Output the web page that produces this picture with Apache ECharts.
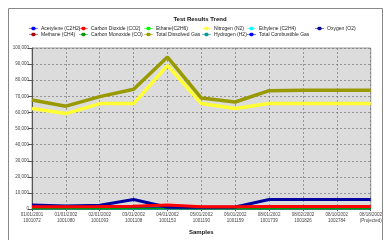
<!DOCTYPE html>
<html><head><meta charset="utf-8">
<script src="https://cdn.jsdelivr.net/npm/echarts@6/dist/echarts.min.js"></script>
<style>html,body{margin:0;padding:0;background:#fff}#c{width:385px;height:240px}</style>
</head><body><div id="c"></div>
<script>
const categories = ['01/01/2001\n1001072','01/01/2002\n1001080','02/01/2002\n1001093','03/01/2002\n1001108','04/01/2002\n1001153','05/01/2002\n1001190','06/01/2002\n1001159','08/01/2002\n1001739','08/02/2002\n1001826','08/10/2002\n1002784','08/18/2002\n(Projected)'];
const acetylene = [0,0,0,0,0,0,0,0,0,0,0];
const carbonDioxide = [1500,1500,1600,1800,2600,1500,1500,1600,1600,1600,1600];
const ethane = [50,50,60,80,70,50,50,60,60,60,60];
const nitrogen = [62500,59300,65500,65500,89200,65500,62500,65500,65500,65500,65500];
const ethylene = [20,20,20,30,30,20,20,20,20,20,20];
const oxygen = [2600,2000,2400,6000,1200,1200,1300,6000,6000,6000,6000];
const methane = [100,100,120,150,140,100,100,110,110,110,110];
const carbonMonoxide = [300,300,400,600,500,300,300,350,350,350,350];
const totalDissolvedGas = [67700,63900,69800,74400,94400,68900,66500,73500,73800,73800,73800];
const hydrogen = [30,30,40,60,50,30,30,40,40,40,40];
const totalCombustibleGas = [500,500,600,900,800,500,500,550,550,550,550];
const yTicks = [0,10000,20000,30000,40000,50000,60000,70000,80000,90000,100000];

const S = [
 ['Acetylene (C2H2)', acetylene, '#0000ff', 1.5],
 ['Carbon Dioxide (CO2)', carbonDioxide, '#ff0000', 3],
 ['Ethane(C2H6)', ethane, '#00ff00', 1.5],
 ['Nitrogen (N2)', nitrogen, '#ffff33', 3.5],
 ['Ethylene (C2H4)', ethylene, '#00ffff', 1.5],
 ['Oxygen (O2)', oxygen, '#0000a0', 3],
 ['Methane (CH4)', methane, '#aa0000', 1.5],
 ['Carbon Monoxide (CO)', carbonMonoxide, '#009900', 1.5],
 ['Total Dissolved Gas', totalDissolvedGas, '#999900', 3.5],
 ['Hydrogen (H2)', hydrogen, '#009999', 1.5],
 ['Total Combustible Gas', totalCombustibleGas, '#0000ff', 1.5]
];
const drawOrder = [0,2,4,6,9,10,7,5,1,8,3];
const icon = 'path://M0,4 L4,4 C5,0.5 11,0.5 12,4 L16,4 L16,5 L12,5 C11,8.5 5,8.5 4,5 L0,5 Z';
const cols = [
 {x:29, names:[S[0][0], S[6][0]]},
 {x:79, names:[S[1][0], S[7][0]]},
 {x:144, names:[S[2][0], S[8][0]]},
 {x:202, names:[S[3][0], S[9][0]]},
 {x:247, names:[S[4][0], S[10][0]]},
 {x:315, names:[S[5][0]]}
];
const legends = cols.map(c => ({
  orient:'vertical', left:c.x, top:26, itemGap:1, itemWidth:9, itemHeight:5, icon:icon,
  padding:0, data:c.names, selectedMode:false,
  textStyle:{fontSize:5, fontFamily:'Liberation Sans', color:'#222', padding:[0,0,0,-2]}
}));
const chart = echarts.init(document.getElementById('c'), null, {renderer:'canvas'});
chart.setOption({
  animation:false,
  backgroundColor:'#fff',
  graphic:[{type:'rect', shape:{x:8.5,y:8.5,width:374,height:240}, style:{fill:'none', stroke:'#888', lineWidth:1}}],
  title:{text:'Test Results Trend', left:195, textAlign:'center', top:11, textStyle:{fontSize:6, fontWeight:'bold', fontFamily:'Liberation Sans', color:'#111'}},
  legend:legends,
  grid:{left:32, right:9, top:48, bottom:25, show:true, backgroundColor:'#dcdcdc', borderColor:'#999', borderWidth:1},
  xAxis:{type:'category', data:categories, boundaryGap:false,
    name:'Samples', nameLocation:'middle', nameGap:17,
    nameTextStyle:{fontSize:6, fontWeight:'bold', fontFamily:'Liberation Sans', color:'#111'},
    axisLine:{lineStyle:{color:'#555'}}, axisTick:{show:true, length:2, lineStyle:{color:'#555'}},
    axisLabel:{fontSize:4.5, fontFamily:'Liberation Sans', color:'#444', interval:0, lineHeight:6, margin:3},
    splitLine:{show:true, lineStyle:{color:'#777', type:[2,2], width:0.7}}},
  yAxis:{type:'value', min:0, max:100000, interval:10000,
    axisLine:{show:true, lineStyle:{color:'#555'}}, axisTick:{show:true, length:4, lineStyle:{color:'#555'}},
    axisLabel:{fontSize:4.5, fontFamily:'Liberation Sans', color:'#444', margin:3,
      formatter: v => yTicks.includes(v) ? v.toLocaleString('en-US') : ''},
    splitLine:{show:true, lineStyle:{color:'#777', type:[2,2], width:0.7}}},
  series: drawOrder.map(i => ({
    name:S[i][0], type:'line', data:S[i][1], symbol:'none', showSymbol:false,
    itemStyle:{color:S[i][2]}, lineStyle:{color:S[i][2], width:S[i][3]}
  }))
});
</script></body></html>
